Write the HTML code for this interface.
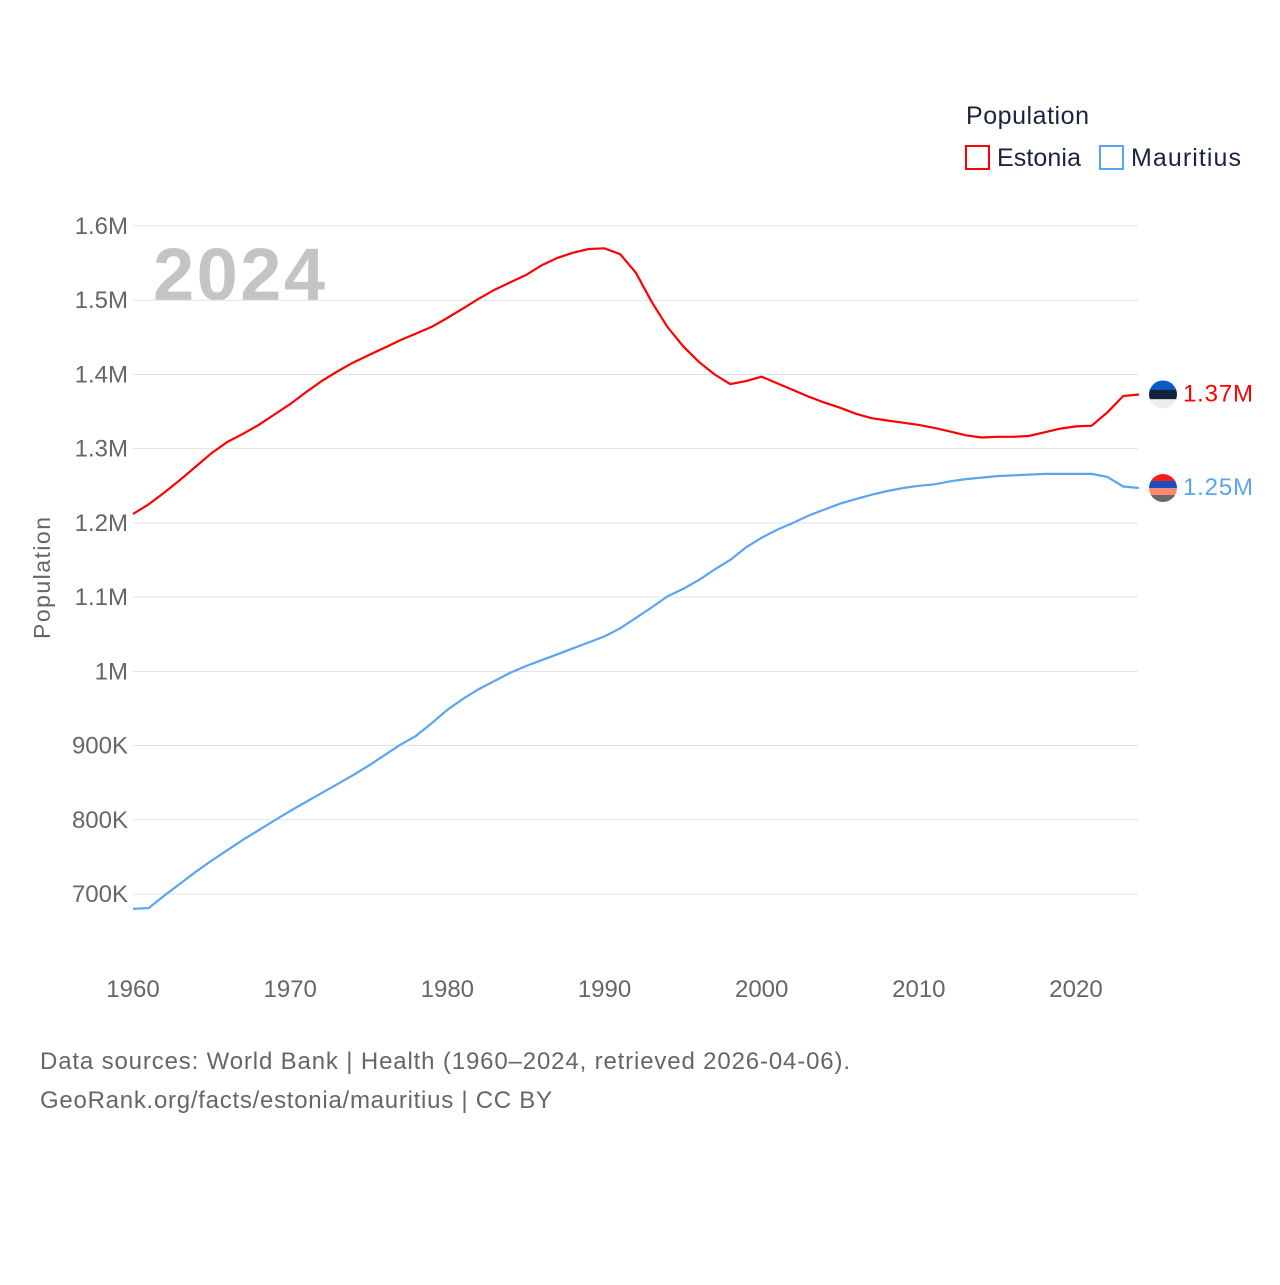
<!DOCTYPE html>
<html><head><meta charset="utf-8"><style>
body{margin:0;background:#fff;width:1280px;height:1280px;overflow:hidden;font-family:"Liberation Sans",sans-serif}
</style></head><body>
<svg id="chart" width="1280" height="1280" xmlns="http://www.w3.org/2000/svg" font-family="Liberation Sans, sans-serif">
<text x="966" y="124" font-size="25" fill="#1a2340" textLength="123">Population</text>
<g><rect x="966" y="146" width="23" height="23" fill="none" stroke="#ff0000" stroke-width="2"/><text x="997" y="166" font-size="25" fill="#1a2340" textLength="84">Estonia</text></g>
<g><rect x="1100" y="146" width="23" height="23" fill="none" stroke="#5aa5ef" stroke-width="2"/><text x="1131" y="166" font-size="25" fill="#1a2340" textLength="110">Mauritius</text></g>
<text x="153" y="300" font-size="74" font-weight="bold" fill="#c4c4c4" textLength="172">2024</text>
<g id="grid"></g><g id="yticks"></g><g id="xticks"></g><g id="lines"></g><g id="ends"></g>
<text transform="translate(50,578) rotate(-90)" text-anchor="middle" font-size="23" fill="#666" textLength="122">Population</text>
<text x="40" y="1069" font-size="24" fill="#666" textLength="810">Data sources: World Bank | Health (1960–2024, retrieved 2026-04-06).</text>
<text x="40" y="1108" font-size="24" fill="#666" textLength="512">GeoRank.org/facts/estonia/mauritius | CC BY</text>
</svg>
<script>
const years=[];for(let y=1960;y<=2024;y++)years.push(y);
const estonia=[1.212,1.225,1.241,1.258,1.276,1.294,1.309,1.320,1.332,1.346,1.360,1.376,1.391,1.404,1.416,1.426,1.436,1.446,1.455,1.464,1.476,1.489,1.502,1.514,1.524,1.534,1.547,1.557,1.564,1.569,1.570,1.562,1.537,1.498,1.464,1.438,1.417,1.400,1.387,1.391,1.397,1.388,1.379,1.370,1.362,1.355,1.347,1.341,1.338,1.335,1.332,1.328,1.323,1.318,1.315,1.316,1.316,1.317,1.322,1.327,1.330,1.331,1.349,1.371,1.373];
const mauritius=[0.680,0.681,0.698,0.714,0.730,0.745,0.759,0.773,0.786,0.799,0.812,0.824,0.836,0.848,0.860,0.873,0.887,0.901,0.913,0.930,0.948,0.963,0.976,0.987,0.998,1.007,1.015,1.023,1.031,1.039,1.047,1.058,1.072,1.086,1.101,1.111,1.123,1.137,1.150,1.167,1.180,1.191,1.200,1.210,1.218,1.226,1.232,1.238,1.243,1.247,1.250,1.252,1.256,1.259,1.261,1.263,1.264,1.265,1.266,1.266,1.266,1.266,1.262,1.249,1.247];
const yTicks=[0.7,0.8,0.9,1.0,1.1,1.2,1.3,1.4,1.5,1.6];
const yTickLabels=["700K","800K","900K","1M","1.1M","1.2M","1.3M","1.4M","1.5M","1.6M"];
const xTicks=[1960,1970,1980,1990,2000,2010,2020];
const endLabels=["1.37M","1.25M"];
const NS="http://www.w3.org/2000/svg";
const X=y=>133+(y-1960)*(1076-133)/60;
const Y=v=>894-(v-0.7)*(894-226)/0.9;
function mk(tag,attrs,parent,text){const e=document.createElementNS(NS,tag);for(const k in attrs)e.setAttribute(k,attrs[k]);if(text!==undefined)e.textContent=text;document.getElementById(parent).appendChild(e);return e;}
yTicks.forEach((t,i)=>{
const g=mk('line',{x1:133,x2:1138,y1:Y(t),y2:Y(t),stroke:'#e3e3e3','stroke-width':1},'grid');


const l=mk('text',{x:128,y:Y(t)+8,'text-anchor':'end','font-size':24,fill:'#666'},'yticks',yTickLabels[i]);


});
xTicks.forEach(t=>{
const l=mk('text',{x:X(t),y:997,'text-anchor':'middle','font-size':24,fill:'#666'},'xticks',String(t));


});
function pts(arr){return arr.map((v,i)=>X(years[i]).toFixed(1)+','+Y(v).toFixed(1)).join(' ');}
const le=mk('polyline',{points:pts(estonia),fill:'none',stroke:'#ff0000','stroke-width':2.2},'lines');


const lm=mk('polyline',{points:pts(mauritius),fill:'none',stroke:'#5aa5ef','stroke-width':2.2},'lines');


const series=[{v:estonia,c:'#ff0000',cols:['#0a5cc7','#15233e','#eeeeee'],n:'estonia'},{v:mauritius,c:'#5aa5ef',cols:['#f81c1c','#1a4fbf','#ff8a70','#6a6a6a'],n:'mauritius'}];
series.forEach((s,si)=>{
const last=s.v[s.v.length-1];const cx=1163,cy=Y(last),r=14;
const g=mk('g',{},'ends');


const id='clip'+si;
const cp=document.createElementNS(NS,'clipPath');cp.setAttribute('id',id);
const cc=document.createElementNS(NS,'circle');cc.setAttribute('cx',cx);cc.setAttribute('cy',cy);cc.setAttribute('r',r);cp.appendChild(cc);g.appendChild(cp);
const h=2*r/s.cols.length;
s.cols.forEach((c,k)=>{const rr=document.createElementNS(NS,'rect');rr.setAttribute('x',cx-r);rr.setAttribute('y',cy-r+k*h);rr.setAttribute('width',2*r);rr.setAttribute('height',h+0.5);rr.setAttribute('fill',c);rr.setAttribute('clip-path','url(#'+id+')');g.appendChild(rr);});
const t=mk('text',{x:1183,y:cy+7,'font-size':24,fill:s.c,textLength:70},'ends',endLabels[si]);


});
</script>
</body></html>
